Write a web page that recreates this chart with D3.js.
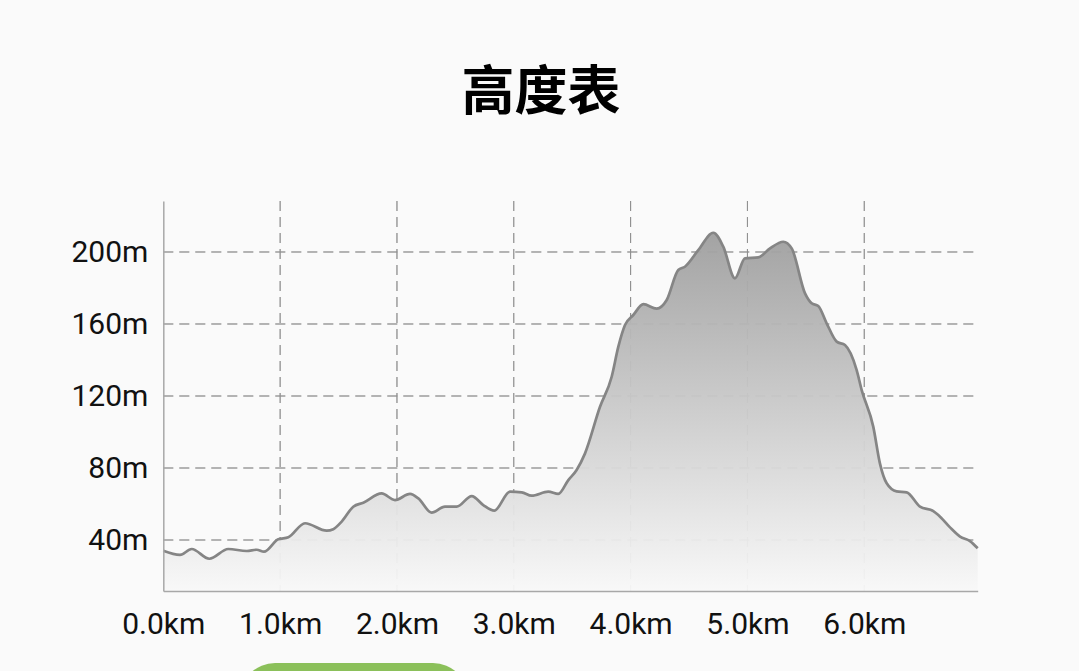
<!DOCTYPE html>
<html>
<head>
<meta charset="utf-8">
<script src="https://cdn.jsdelivr.net/npm/d3@7"></script>
<style>
  body { margin: 0; background: #fafafa; }
  svg { display: block; }
</style>
</head>
<body>
<div class="chart"></div>
<script>
var w = 1079;
var h = 671;

// distance along the route (km) and elevation (m)
var distKm = [0, 0.143, 0.243, 0.394, 0.556, 0.714, 0.8, 0.862, 0.984, 1.07,
  1.213, 1.399, 1.455, 1.527, 1.626, 1.712, 1.869, 1.983, 2.112, 2.183,
  2.297, 2.411, 2.511, 2.64, 2.739, 2.833, 2.968, 3.068, 3.153, 3.295,
  3.381, 3.467, 3.538, 3.609, 3.738, 3.838, 3.895, 3.952, 4.023, 4.109,
  4.223, 4.309, 4.408, 4.465, 4.579, 4.708, 4.793, 4.893, 4.979, 5.093,
  5.193, 5.307, 5.379, 5.493, 5.55, 5.606, 5.678, 5.764, 5.835, 5.935,
  5.978, 6.077, 6.134, 6.192, 6.277, 6.363, 6.477, 6.591, 6.634, 6.734,
  6.82, 6.905, 6.971];
var elevM = [34, 31.7, 35, 29.6, 35, 33.9, 34.6, 33.5, 40.4, 41.5,
  49.3, 45.2, 46, 50.2, 58.5, 60.7, 65.9, 62.2, 65.6, 63.1,
  55.2, 58.5, 58.5, 64.4, 59.4, 56.3, 66.9, 66.5, 64.6, 66.9,
  65.6, 73.3, 78.9, 88, 114, 130.7, 147.4, 159.4, 165, 171,
  168.5, 173.3, 190, 191.8, 201, 210.7, 203, 185.4, 196.5, 197,
  202, 205.7, 202, 177, 171.5, 170, 160.4, 150.2, 148.3, 134.4,
  123.3, 103, 82.6, 71.5, 67, 66.5, 58.5, 56.1, 53.9, 47,
  41.9, 39.4, 35.4];
var xTicks = [0, 1, 2, 3, 4, 5, 6];
var yTicks = [40, 80, 120, 160, 200];
var title = "高度表";

var data = distKm.map(function(d, i) { return {km: d, m: elevM[i]}; });

var svg = d3.select(".chart").append("svg")
  .attr("width", w)
  .attr("height", h);

svg.append("rect").attr("width", w).attr("height", h).attr("fill", "#fafafa");

var xScale = d3.scaleLinear().domain([0, 6.971]).range([163.3, 977.7]);
var yScale = d3.scaleLinear().domain([11.67, 228.33]).range([591, 201]);

// fill gradient, dark at the top of the plot to almost white at the bottom
var grad = svg.append("defs").append("linearGradient")
  .attr("id", "fillGrad")
  .attr("gradientUnits", "userSpaceOnUse")
  .attr("x1", 0).attr("x2", 0)
  .attr("y1", yScale(212)).attr("y2", yScale(11.67));
grad.append("stop").attr("offset", "0%").attr("stop-color", "#9e9e9e");
grad.append("stop").attr("offset", "100%").attr("stop-color", "#f8f8f8");

// grid
var grid = svg.append("g").attr("class", "grid");
grid.selectAll(".hgrid").data(yTicks).enter().append("line")
  .attr("x1", xScale(0)).attr("x2", 975)
  .attr("y1", d => yScale(d)).attr("y2", d => yScale(d))
  .attr("stroke", "#8e8e8e").attr("stroke-width", 1)
  .attr("stroke-dasharray", "10,6");
grid.selectAll(".vgrid").data(xTicks.slice(1)).enter().append("line")
  .attr("x1", d => xScale(d)).attr("x2", d => xScale(d))
  .attr("y1", 201).attr("y2", 591)
  .attr("stroke", "#8e8e8e").attr("stroke-width", 1)
  .attr("stroke-dasharray", "10,6");

var area = d3.area()
  .x(d => xScale(d.km))
  .y0(yScale(11.67))
  .y1(d => yScale(d.m))
  .curve(d3.curveMonotoneX);
var line = d3.line()
  .x(d => xScale(d.km))
  .y(d => yScale(d.m))
  .curve(d3.curveMonotoneX);

svg.append("path").datum(data)
  .attr("d", area)
  .attr("fill", "url(#fillGrad)")
  .attr("opacity", 0.95);

// grid shows through the area in the reference
grid.clone(true).attr("opacity", 0.6);

svg.append("path").datum(data)
  .attr("d", line)
  .attr("fill", "none")
  .attr("stroke", "#858585")
  .attr("stroke-width", 2.7);

// axes
var xAxis = d3.axisBottom(xScale).tickValues(xTicks)
  .tickFormat(d => d3.format(".1f")(d) + "km").tickSize(0).tickPadding(22);
var yAxis = d3.axisLeft(yScale).tickValues(yTicks)
  .tickFormat(d => d + "m").tickSize(0).tickPadding(15);

svg.append("g")
  .attr("transform", "translate(0,591)")
  .call(xAxis)
  .call(g => {
    g.select(".domain").attr("stroke", "#a8a8a8").attr("stroke-width", 1.5);
    g.selectAll("text").attr("fill", "#111")
      .style("font-family", "Roboto, sans-serif").style("font-size", "30px");
  });

svg.append("g")
  .attr("transform", "translate(163.3,0)")
  .call(yAxis)
  .call(g => {
    g.select(".domain").attr("stroke", "#a8a8a8").attr("stroke-width", 1.5);
    g.selectAll("text").attr("fill", "#111")
      .style("font-family", "Roboto, sans-serif").style("font-size", "30px");
  });

svg.append("text")
  .attr("x", 541)
  .attr("y", 87)
  .attr("text-anchor", "middle")
  .attr("dominant-baseline", "central")
  .attr("fill", "#000")
  .style("font-family", "'Noto Sans CJK SC', sans-serif")
  .style("font-weight", "bold")
  .style("font-size", "53px")
  .text(title);

// green button peeking in at the bottom
svg.append("rect")
  .attr("x", 240).attr("y", 663)
  .attr("width", 228).attr("height", 70)
  .attr("rx", 35)
  .attr("fill", "#8bc05a");
</script>
</body>
</html>
